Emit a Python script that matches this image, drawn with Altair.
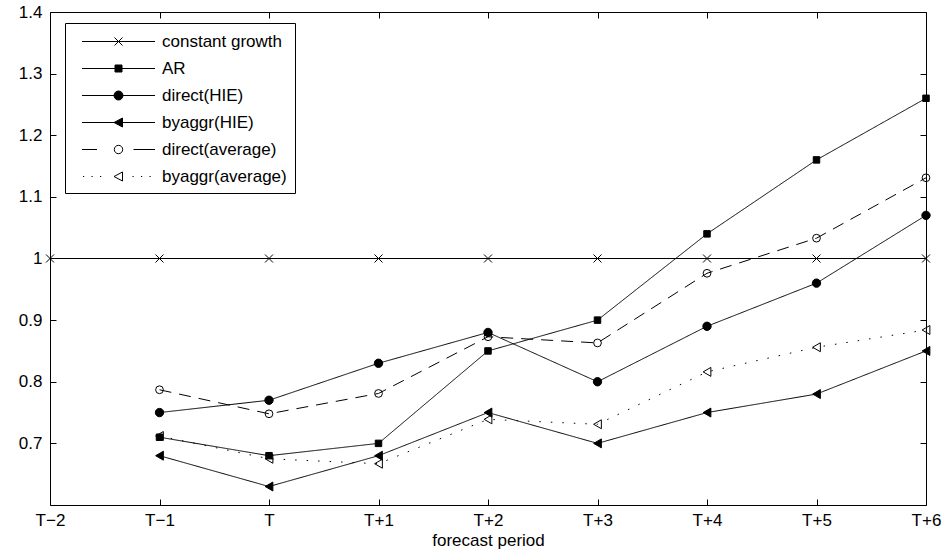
import altair as alt
import pandas as pd

FONT = "Liberation Sans"

periods = ["T\u22122", "T\u22121", "T", "T+1", "T+2", "T+3", "T+4", "T+5", "T+6"]
series_names = ["constant growth", "AR", "direct(HIE)", "byaggr(HIE)",
                "direct(average)", "byaggr(average)"]
constant_growth = [1.0, 1.0, 1.0, 1.0, 1.0, 1.0, 1.0, 1.0, 1.0]
ar = [None, 0.71, 0.68, 0.70, 0.85, 0.90, 1.04, 1.16, 1.26]
direct_hie = [None, 0.75, 0.77, 0.83, 0.88, 0.80, 0.89, 0.96, 1.07]
byaggr_hie = [None, 0.68, 0.63, 0.68, 0.75, 0.70, 0.75, 0.78, 0.85]
direct_avg = [None, 0.787, 0.748, 0.781, 0.873, 0.863, 0.976, 1.033, 1.131]
byaggr_avg = [None, 0.712, 0.675, 0.667, 0.739, 0.731, 0.816, 0.856, 0.884]
y_ticks = [0.7, 0.8, 0.9, 1.0, 1.1, 1.2, 1.3, 1.4]

all_series = [constant_growth, ar, direct_hie, byaggr_hie, direct_avg, byaggr_avg]
rows = []
for name, vals in zip(series_names, all_series):
    for i, (p, v) in enumerate(zip(periods, vals)):
        if v is not None:
            rows.append({"series": name, "period": p, "idx": i, "value": v})
df = pd.DataFrame(rows)

W, H = 876, 493

x_enc = alt.X("period:N", sort=periods,
              scale=alt.Scale(type="point", domain=periods, padding=0),
              axis=alt.Axis(title="forecast period", labelAngle=0, ticks=False, domain=False,
                            grid=True, gridColor="black", gridOpacity=1, gridWidth=1,
                            gridDash=[6, H - 12], labelFont=FONT, labelFontSize=17,
                            labelColor="black", labelPadding=7, titleFont=FONT,
                            titleFontSize=17, titleFontWeight="normal", titleColor="black",
                            titlePadding=4))
y_enc = alt.Y("value:Q", scale=alt.Scale(domain=[0.6, 1.4], nice=False, zero=False),
              axis=alt.Axis(title=None, values=y_ticks, format=".1~f", ticks=False,
                            domain=False, grid=True, gridColor="black", gridOpacity=1,
                            gridWidth=1, gridDash=[6, W - 12], labelFont=FONT,
                            labelFontSize=17, labelColor="black", labelPadding=8))

base = alt.Chart(df)

XPATH = "M-1,-1L1,1M-1,1L1,-1"
styles = {
    "constant growth": dict(shape=XPATH, size=64, filled=False, dash=[1, 0]),
    "AR": dict(shape="square", size=42, filled=True, dash=[1, 0]),
    "direct(HIE)": dict(shape="circle", size=70, filled=True, dash=[1, 0]),
    "byaggr(HIE)": dict(shape="triangle-left", size=80, filled=True, dash=[1, 0]),
    "direct(average)": dict(shape="circle", size=60, filled=False, dash=[12, 8]),
    "byaggr(average)": dict(shape="triangle-left", size=80, filled=False, dash=[1.5, 10]),
}

layers = []
for name in series_names:
    st = styles[name]
    sub = base.transform_filter(alt.datum.series == name)
    layers.append(
        sub.mark_line(color="black", strokeWidth=1, strokeDash=st["dash"]).encode(
            x=x_enc, y=y_enc, order=alt.Order("idx:Q"))
    )
    layers.append(
        sub.mark_point(shape=st["shape"], size=st["size"], filled=st["filled"],
                       color="black", stroke="black", strokeWidth=1, opacity=1
                       ).encode(x=x_enc, y=y_enc)
    )

# legend symbols: line segment with marker (unit: 10 px)
legend_paths = [
    "M-3.65,0H3.65M-0.4,-0.4L0.4,0.4M-0.4,0.4L0.4,-0.4",
    "M-3.65,0H3.65M-0.35,-0.35H0.35V0.35H-0.35Z",
    "M-3.65,0H3.65M-0.45,0A0.45,0.45 0 1,0 0.45,0A0.45,0.45 0 1,0 -0.45,0Z",
    "M-3.65,0H3.65M-0.45,0L0.4,-0.45L0.4,0.45Z",
    "M-3.65,0H-2.15M1.5,0H3.65M-0.42,0A0.42,0.42 0 1,0 0.42,0A0.42,0.42 0 1,0 -0.42,0Z",
    "M-3.55,0h0.12M-2.7,0h0.12M-1.85,0h0.12M1.4,0h0.12M2.25,0h0.12M3.1,0h0.12"
    "M-0.45,0L0.4,-0.45L0.4,0.45Z",
]
legend_fill = ["black", "black", "black", "black", "transparent", "transparent"]
legend_stroke = ["black", "black", "black", "black", "black", "black"]

leg = alt.Legend(title=None, orient="none", legendX=15, legendY=11, direction="vertical",
                 strokeColor="black", fillColor="white", padding=8, labelFont=FONT,
                 labelFontSize=17, labelColor="black", symbolSize=400,
                 symbolStrokeWidth=1, symbolOffset=35, labelOffset=33, rowPadding=8,
                 symbolStrokeColor="black", labelLimit=400)

# legend-only layer: no marks of its own are drawn
legend_layer = base.transform_filter("false").mark_point(
    strokeWidth=1, opacity=1, filled=False
).encode(
    x=x_enc, y=y_enc,
    shape=alt.Shape("series:N", legend=leg,
                    scale=alt.Scale(domain=series_names, range=legend_paths)),
    fill=alt.Fill("series:N", legend=leg,
                  scale=alt.Scale(domain=series_names, range=legend_fill)),
    stroke=alt.Stroke("series:N", legend=leg,
                      scale=alt.Scale(domain=series_names, range=legend_stroke)),
)

chart = alt.layer(*layers, legend_layer).properties(
    width=W, height=H,
    autosize=alt.AutoSizeParams(type="none"),
    padding={"left": 50, "top": 12, "right": 23, "bottom": 55},
    background="white",
).configure_view(stroke="black", strokeWidth=1)

chart.save("out.html", embed_options={"renderer": "svg", "actions": False})
